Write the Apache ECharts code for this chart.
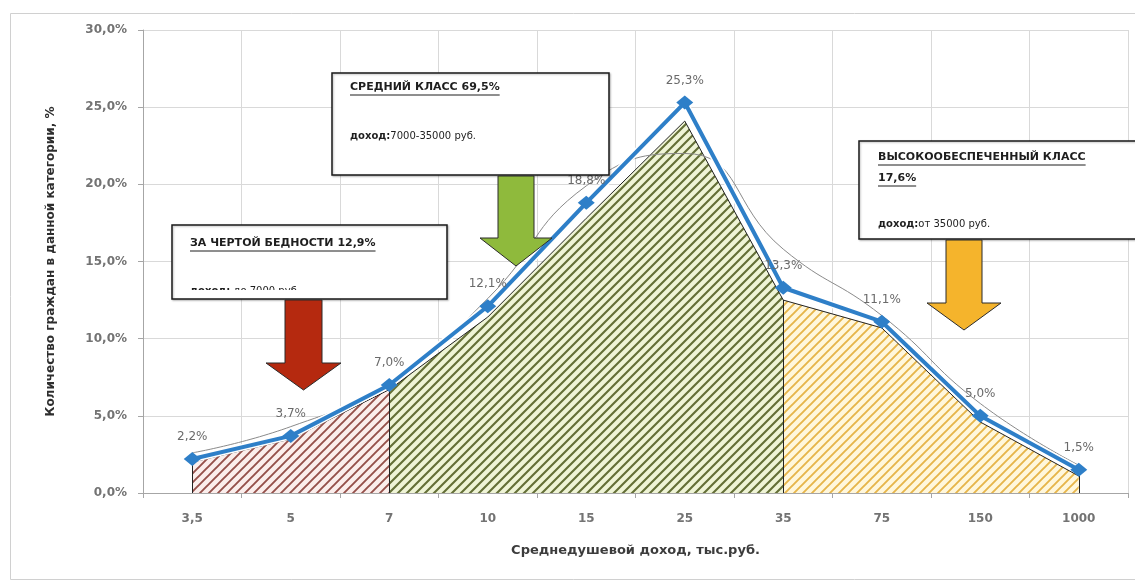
<!DOCTYPE html>
<html>
<head>
<meta charset="utf-8">
<script src="https://cdn.jsdelivr.net/npm/echarts@6/dist/echarts.min.js"></script>
<style>
  html, body { margin: 0; padding: 0; background: #ffffff; }
  #chart { width: 1135px; height: 587px; }
</style>
</head>
<body>
<div id="chart"></div>
<script>
// Income brackets (thousand roubles per capita) and share of citizens in each, %
const categories = ['3,5', '5', '7', '10', '15', '25', '35', '75', '150', '1000'];
const shares = [2.2, 3.7, 7.0, 12.1, 18.8, 25.3, 13.3, 11.1, 5.0, 1.5];
// Hatched distribution profile under the main line
const fillProfile = [2.0, 3.5, 6.7, 11.4, 17.8, 24.1, 12.5, 10.7, 4.6, 1.1];
// Thin smoothed reference curve
const smoothProfile = [2.6, 4.3, 7.2, 12.6, 19.9, 22.0, 15.8, 11.5, 5.8, 1.8];
// Class segments as [first, last] category index
const segmentRanges = [[0, 2], [2, 6], [6, 9]];
// Y axis range, %
const yMin = 0, yMax = 30, yStep = 5;

const FONT = 'DejaVu Sans';
const pct = v => Number(v).toFixed(1).replace('.', ',') + '%';

// diagonal hatch tile
function hatch(bg, fg, lw) {
  const s = 9;
  const c = document.createElement('canvas');
  c.width = s; c.height = s;
  const g = c.getContext('2d');
  g.fillStyle = bg;
  g.fillRect(0, 0, s, s);
  g.strokeStyle = fg;
  g.lineWidth = lw;
  g.beginPath();
  g.moveTo(-2, s + 2); g.lineTo(s + 2, -2);
  g.moveTo(-2, 2); g.lineTo(2, -2);
  g.moveTo(s - 2, s + 2); g.lineTo(s + 2, s - 2);
  g.stroke();
  return c;
}

const segmentFills = [
  hatch('#fbeeec', '#95504a', 1.9),
  hatch('#eff4d6', '#646f36', 2.1),
  hatch('#fff7dc', '#e6b54a', 1.9)
];

const areaSeries = segmentRanges.map((r, k) => ({
  type: 'line',
  silent: true,
  data: fillProfile.map((v, i) => (i >= r[0] && i <= r[1]) ? v : '-'),
  symbol: 'none',
  connectNulls: false,
  lineStyle: { color: '#222222', width: 1 },
  areaStyle: { color: { image: segmentFills[k], repeat: 'repeat' }, opacity: 1 },
  markLine: {
    silent: true,
    symbol: 'none',
    label: { show: false },
    lineStyle: { color: '#222222', width: 1, type: 'solid' },
    data: [r[0], r[1]].map(i => [
      { coord: [categories[i], 0] },
      { coord: [categories[i], fillProfile[i]] }
    ])
  },
  z: 2
}));

// width of a string drawn in a given font
const measureCtx = document.createElement('canvas').getContext('2d');
function textWidth(str, font) {
  measureCtx.font = font;
  return measureCtx.measureText(str).width;
}

function underlinedTitle(str, x, y, size) {
  const w = textWidth(str, 'bold ' + size + 'px "' + FONT + '"');
  return [
    { type: 'text', x: x, y: y, z: 101,
      style: { text: str, fill: '#1e1e1e', font: 'bold ' + size + 'px "' + FONT + '"', textVerticalAlign: 'bottom' } },
    { type: 'line', z: 101, shape: { x1: x, y1: y + 2, x2: x + w, y2: y + 2 },
      style: { stroke: '#1e1e1e', lineWidth: 1 } }
  ];
}

function incomeLine(label, rest, x, y) {
  const bw = textWidth(label, 'bold 10px "' + FONT + '"');
  return [
    { type: 'text', x: x, y: y, z: 101,
      style: { text: label, fill: '#1e1e1e', font: 'bold 10px "' + FONT + '"', textVerticalAlign: 'bottom' } },
    { type: 'text', x: x + bw, y: y, z: 101,
      style: { text: rest, fill: '#1e1e1e', font: '10px "' + FONT + '"', textVerticalAlign: 'bottom' } }
  ];
}

function box(x, y, w, h) {
  return { type: 'rect', z: 100, shape: { x: x, y: y, width: w, height: h },
    style: { fill: '#ffffff', stroke: '#1a1a1a', lineWidth: 1.5,
      shadowBlur: 2, shadowColor: 'rgba(0,0,0,0.25)', shadowOffsetX: 1, shadowOffsetY: 1 } };
}

function arrow(cx, top, shaftHalf, headHalf, neck, tip, fill) {
  return { type: 'polygon', z: 100,
    shape: { points: [
      [cx - shaftHalf, top], [cx + shaftHalf, top], [cx + shaftHalf, neck],
      [cx + headHalf, neck], [cx, tip], [cx - headHalf, neck], [cx - shaftHalf, neck]
    ] },
    style: { fill: fill, stroke: '#2b2b2b', lineWidth: 1 } };
}

const graphics = [
  { type: 'rect', z: -1, silent: true, shape: { x: 10.5, y: 13.5, width: 1130, height: 566 },
    style: { fill: 'none', stroke: '#d0d0d0', lineWidth: 1 } },

  // poverty line box
  box(172, 225, 275, 74),
  ...underlinedTitle('ЗА ЧЕРТОЙ БЕДНОСТИ 12,9%', 190, 249, 11),
  ...incomeLine('доход:', ' до 7000 руб.', 190, 296),
  { type: 'rect', z: 101, shape: { x: 175, y: 290, width: 268, height: 7.5 }, style: { fill: '#ffffff' } },
  arrow(303.5, 300, 18.5, 37.5, 363, 390, '#b5290f'),

  // middle class box
  box(332, 73, 277, 102),
  ...underlinedTitle('СРЕДНИЙ КЛАСС 69,5%', 350, 93, 11),
  ...incomeLine('доход:', '7000-35000 руб.', 350, 141),
  arrow(516, 176, 18, 36, 238, 266, '#8fba3c'),

  // high income box
  box(859, 141, 290, 98),
  ...underlinedTitle('ВЫСОКООБЕСПЕЧЕННЫЙ КЛАСС', 878, 163, 11),
  ...underlinedTitle('17,6%', 878, 184, 11),
  ...incomeLine('доход:', 'от 35000 руб.', 878, 229),
  arrow(964, 240, 18, 37, 303, 330, '#f5b42c')
];

const chart = echarts.init(document.getElementById('chart'), null, { renderer: 'canvas' });

chart.setOption({
  animation: false,
  backgroundColor: '#ffffff',
  grid: { left: 143, right: 7, top: 30, bottom: 94, containLabel: false },
  xAxis: {
    type: 'category',
    data: categories,
    boundaryGap: true,
    name: 'Среднедушевой доход, тыс.руб.',
    nameLocation: 'middle',
    nameGap: 51,
    nameTextStyle: { fontFamily: FONT, fontWeight: 'bold', fontSize: 13, color: '#3c3c3c' },
    axisLine: { lineStyle: { color: '#a6a6a6', width: 1 } },
    axisTick: { show: true, alignWithLabel: false, length: 5, lineStyle: { color: '#a6a6a6' } },
    splitLine: { show: true, interval: 0, lineStyle: { color: '#d9d9d9', width: 1 } },
    axisLabel: { interval: 0, margin: 20, fontFamily: FONT, fontWeight: 'bold', fontSize: 12, color: '#737373' }
  },
  yAxis: {
    type: 'value',
    min: yMin, max: yMax, interval: yStep,
    name: 'Количество граждан в данной категории, %',
    nameLocation: 'middle',
    nameRotate: 90,
    nameGap: 86,
    nameTextStyle: { fontFamily: FONT, fontWeight: 'bold', fontSize: 12, color: '#2e2e2e' },
    axisLine: { show: true, lineStyle: { color: '#a6a6a6', width: 1 } },
    axisTick: { show: true, length: 5, lineStyle: { color: '#a6a6a6' } },
    splitLine: { show: true, lineStyle: { color: '#d9d9d9', width: 1 } },
    axisLabel: { margin: 16, formatter: pct, fontFamily: FONT, fontWeight: 'bold', fontSize: 12, color: '#737373' }
  },
  series: [
    ...areaSeries,
    {
      type: 'line',
      silent: true,
      data: smoothProfile,
      smooth: 0.5,
      symbol: 'none',
      lineStyle: { color: '#8a8a8a', width: 1 },
      z: 3
    },
    {
      // white halo under the main line
      type: 'line',
      silent: true,
      data: shares,
      symbol: 'none',
      lineStyle: { color: '#ffffff', width: 7 },
      z: 4
    },
    {
      type: 'line',
      data: shares,
      symbol: 'diamond',
      symbolSize: [17, 14],
      itemStyle: { color: '#2e7fc8' },
      lineStyle: { color: '#2e7fc8', width: 4 },
      label: {
        show: true, position: 'top', distance: 9,
        formatter: p => pct(p.value),
        fontFamily: FONT, fontSize: 12, color: '#6a6a6a'
      },
      z: 5
    }
  ],
  graphic: { elements: graphics }
});
</script>
</body>
</html>
